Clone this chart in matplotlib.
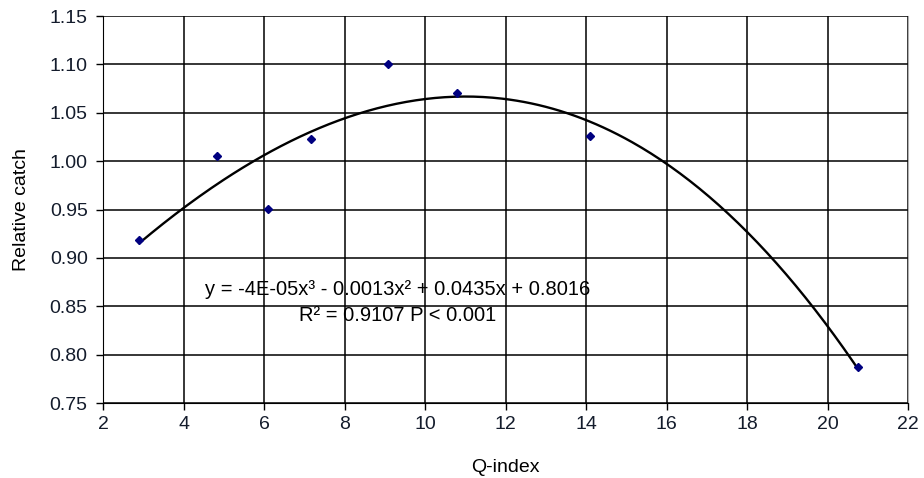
import numpy as np
import matplotlib.pyplot as plt

plt.rcParams['font.family'] = ['Liberation Sans', 'DejaVu Sans']

q_index = [2.9, 4.83, 6.1, 7.17, 9.08, 10.8, 14.1, 20.76]
rel_catch = [0.918, 1.005, 0.951, 1.023, 1.100, 1.070, 1.026, 0.787]
eq_text = 'y = -4E-05x³ - 0.0013x² + 0.0435x + 0.8016'
r2_text = 'R² = 0.9107 P < 0.001'

fig = plt.figure(figsize=(9.24, 4.78), dpi=100)
ax = fig.add_axes([0.1115, 0.1569, 0.8712, 0.8096])

# cubic trendline through the points, like the spreadsheet does
coef = np.polyfit(q_index, rel_catch, 3)
xs = np.linspace(min(q_index), max(q_index), 300)
ax.plot(xs, np.polyval(coef, xs), color='black', lw=1.7, zorder=3)
ax.plot(q_index, rel_catch, 'D', color='#000080', ms=4, zorder=4)

ax.set_xlim(2, 22)
ax.set_ylim(0.75, 1.15)
ax.set_xticks(np.arange(2, 23, 2))
ax.set_yticks(np.arange(0.75, 1.151, 0.05))
ax.set_yticklabels(['%.2f' % v for v in np.arange(0.75, 1.151, 0.05)])
ax.grid(True, color='black', lw=1.1)
ax.set_axisbelow(True)
ax.spines['top'].set_visible(False)
ax.spines['right'].set_color('#b0b0b0')
ax.tick_params(labelsize=14, length=5, width=1, colors='black', pad=4)
ax.tick_params(axis='y', pad=6)
ax.tick_params(labelcolor='#141c2c')

ax.set_xlabel('Q-index', fontsize=14, labelpad=19)
ax.set_ylabel('Relative catch', fontsize=14, labelpad=14)

ax.text(9.33, 0.867, eq_text, fontsize=14.5, ha='center', va='center')
ax.text(9.33, 0.840, r2_text, fontsize=14.5, ha='center', va='center')

fig.savefig('out.png', dpi=100)
